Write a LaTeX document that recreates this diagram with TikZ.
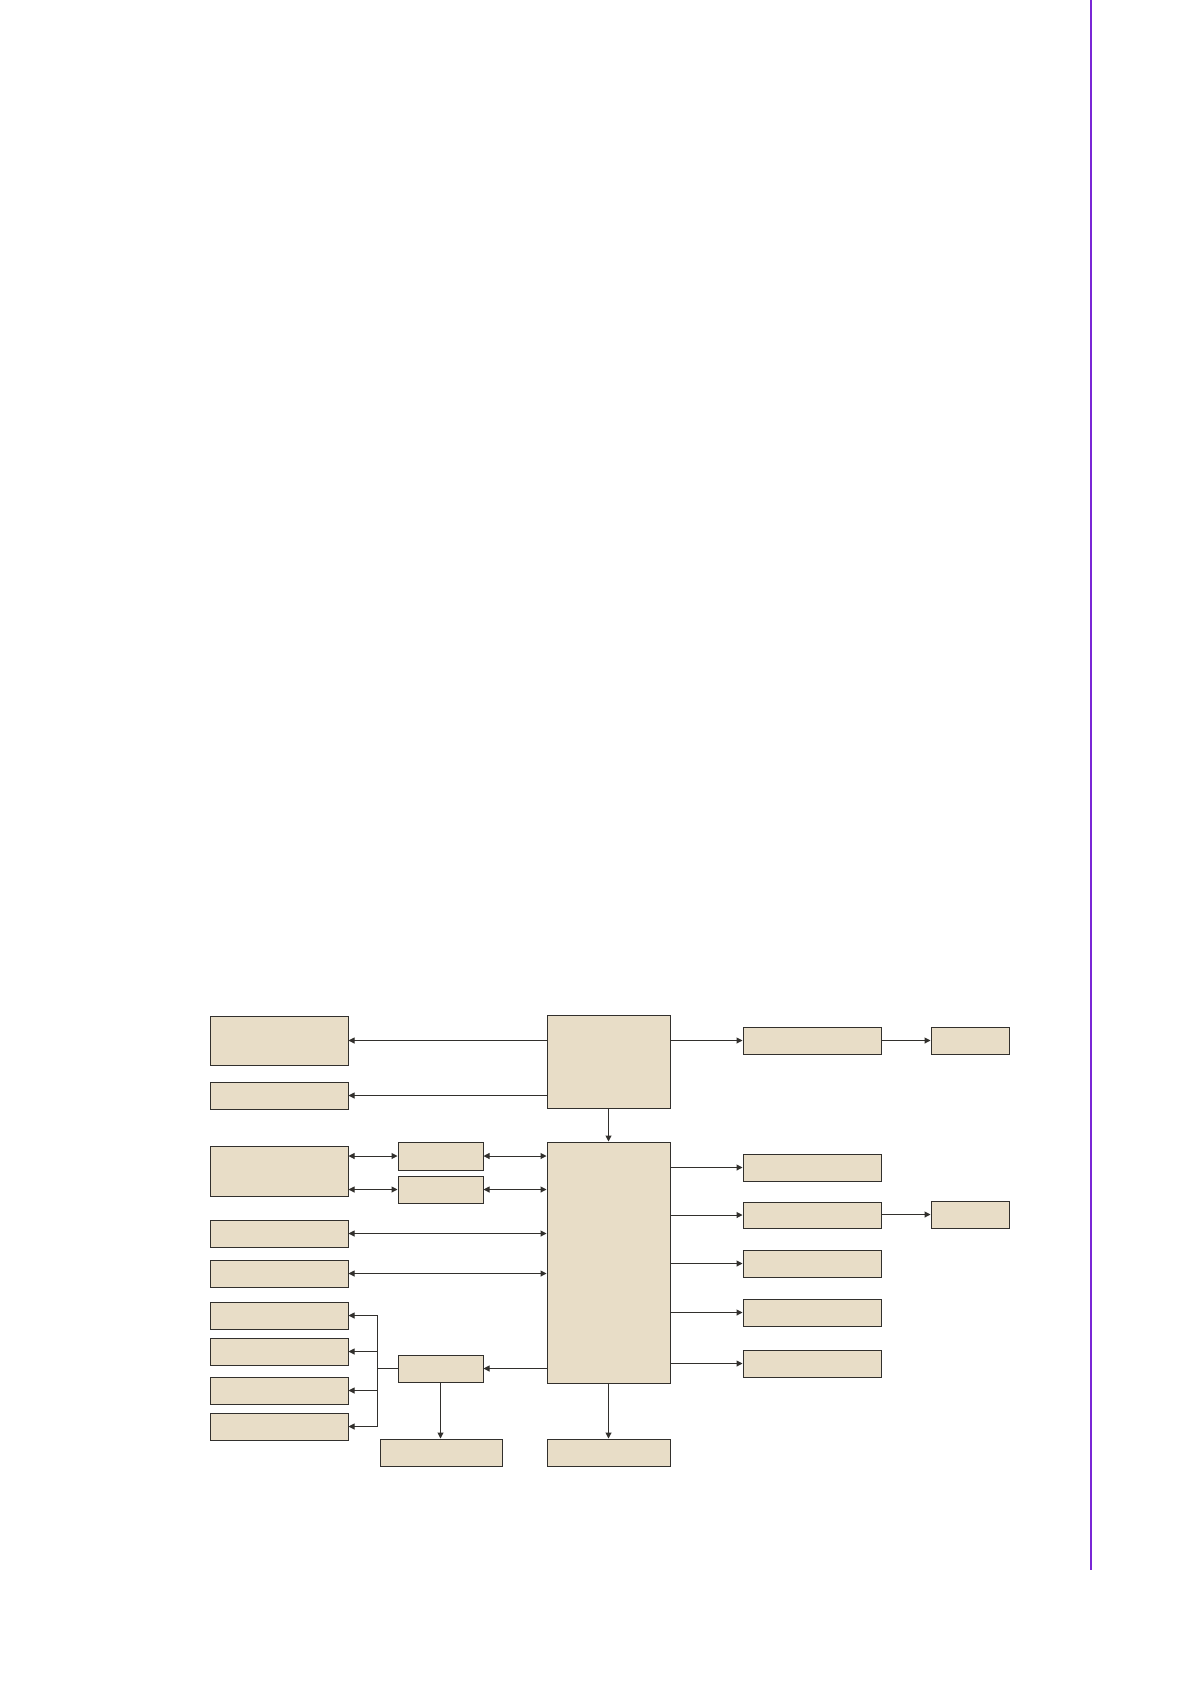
\documentclass[tikz,border=0pt]{standalone}
\usetikzlibrary{arrows.meta}
\definecolor{boxfill}{RGB}{232,221,199}
\definecolor{boxline}{RGB}{50,48,45}
\definecolor{sidebar}{RGB}{122,38,214}
\begin{document}
\begin{tikzpicture}[x=0.5pt,y=-0.5pt,
  box/.style={draw=boxline,fill=boxfill,line width=0.5pt,inner sep=0pt,rectangle},
  wide/.style={box,minimum width=69pt,minimum height=13.5pt},
  narrow/.style={box,minimum width=42.5pt,minimum height=13.5pt},
  conn/.style={draw=boxline,line width=0.5pt},
  tip/.style={-{Triangle[length=3pt,width=3pt]}},
  bitip/.style={{Triangle[length=3pt,width=3pt]}-{Triangle[length=3pt,width=3pt]}}]
\useasboundingbox (0,0) rectangle (1190,1684);
\fill[white] (0,0) rectangle (1190,1684);
\draw[sidebar,line width=1pt] (1091,0) -- (1091,1570);
% left column
\node[wide,minimum height=24.5pt] (A) at (279,1040.5) {};
\node[wide] (B) at (279,1095.5) {};
\node[wide,minimum height=25pt] (D) at (279,1171) {};
\node[wide] (F) at (279,1233.5) {};
\node[wide] (G) at (279,1273.5) {};
\node[wide] (H1) at (279,1315.5) {};
\node[wide] (H2) at (279,1351.5) {};
\node[wide] (H3) at (279,1390.5) {};
\node[wide] (H4) at (279,1426.5) {};
% middle small boxes
\node[narrow,minimum height=14pt] (E1) at (440.5,1156) {};
\node[narrow] (E2) at (440.5,1189.5) {};
\node[narrow] (K) at (440.5,1368.5) {};
\node[box,minimum width=61pt,minimum height=13.5pt] (L) at (441,1452.5) {};
% central column
\node[box,minimum width=61.5pt,minimum height=46.5pt] (C) at (608.5,1061.5) {};
\node[box,minimum width=61.5pt,minimum height=120.5pt] (M) at (608.5,1262.5) {};
\node[box,minimum width=61.5pt,minimum height=13.5pt] (N) at (608.5,1452.5) {};
% right column
\node[wide] (P1) at (812,1040.5) {};
\node[box,minimum width=39pt,minimum height=13.5pt] (Q1) at (970,1040.5) {};
\node[wide] (R1) at (812,1167.5) {};
\node[wide,minimum height=13pt] (R2) at (812,1215) {};
\node[box,minimum width=39pt,minimum height=13.5pt] (Q2) at (970,1214.5) {};
\node[wide] (R3) at (812,1263.5) {};
\node[wide] (R4) at (812,1312.5) {};
\node[wide] (R5) at (812,1363.5) {};
% connectors
\draw[conn,tip] (C.west |- A.east) -- (A.east);
\draw[conn,tip] (C.west |- B.east) -- (B.east);
\draw[conn,tip] (C.south) -- (M.north);
\draw[conn,bitip] (D.east |- E1.west) -- (E1.west);
\draw[conn,bitip] (E1.east) -- (M.west |- E1.east);
\draw[conn,bitip] (D.east |- E2.west) -- (E2.west);
\draw[conn,bitip] (E2.east) -- (M.west |- E2.east);
\draw[conn,bitip] (F.east) -- (M.west |- F.east);
\draw[conn,bitip] (G.east) -- (M.west |- G.east);
\draw[conn,tip] (M.west |- K.east) -- (K.east);
\coordinate (bj) at (377,1368.5);
\draw[conn] (K.west) -- (bj);
\draw[conn,tip] (bj) |- (H1.east);
\draw[conn,tip] (bj) |- (H2.east);
\draw[conn,tip] (bj) |- (H3.east);
\draw[conn,tip] (bj) |- (H4.east);
\draw[conn,tip] (K.south) -- (K.south |- L.north);
\draw[conn,tip] (M.south) -- (N.north);
\draw[conn,tip] (C.east |- P1.west) -- (P1.west);
\draw[conn,tip] (P1.east) -- (Q1.west);
\draw[conn,tip] (M.east |- R1.west) -- (R1.west);
\draw[conn,tip] (M.east |- R2.west) -- (R2.west);
\draw[conn,tip] (R2.east |- Q2.west) -- (Q2.west);
\draw[conn,tip] (M.east |- R3.west) -- (R3.west);
\draw[conn,tip] (M.east |- R4.west) -- (R4.west);
\draw[conn,tip] (M.east |- R5.west) -- (R5.west);
\end{tikzpicture}
\end{document}
